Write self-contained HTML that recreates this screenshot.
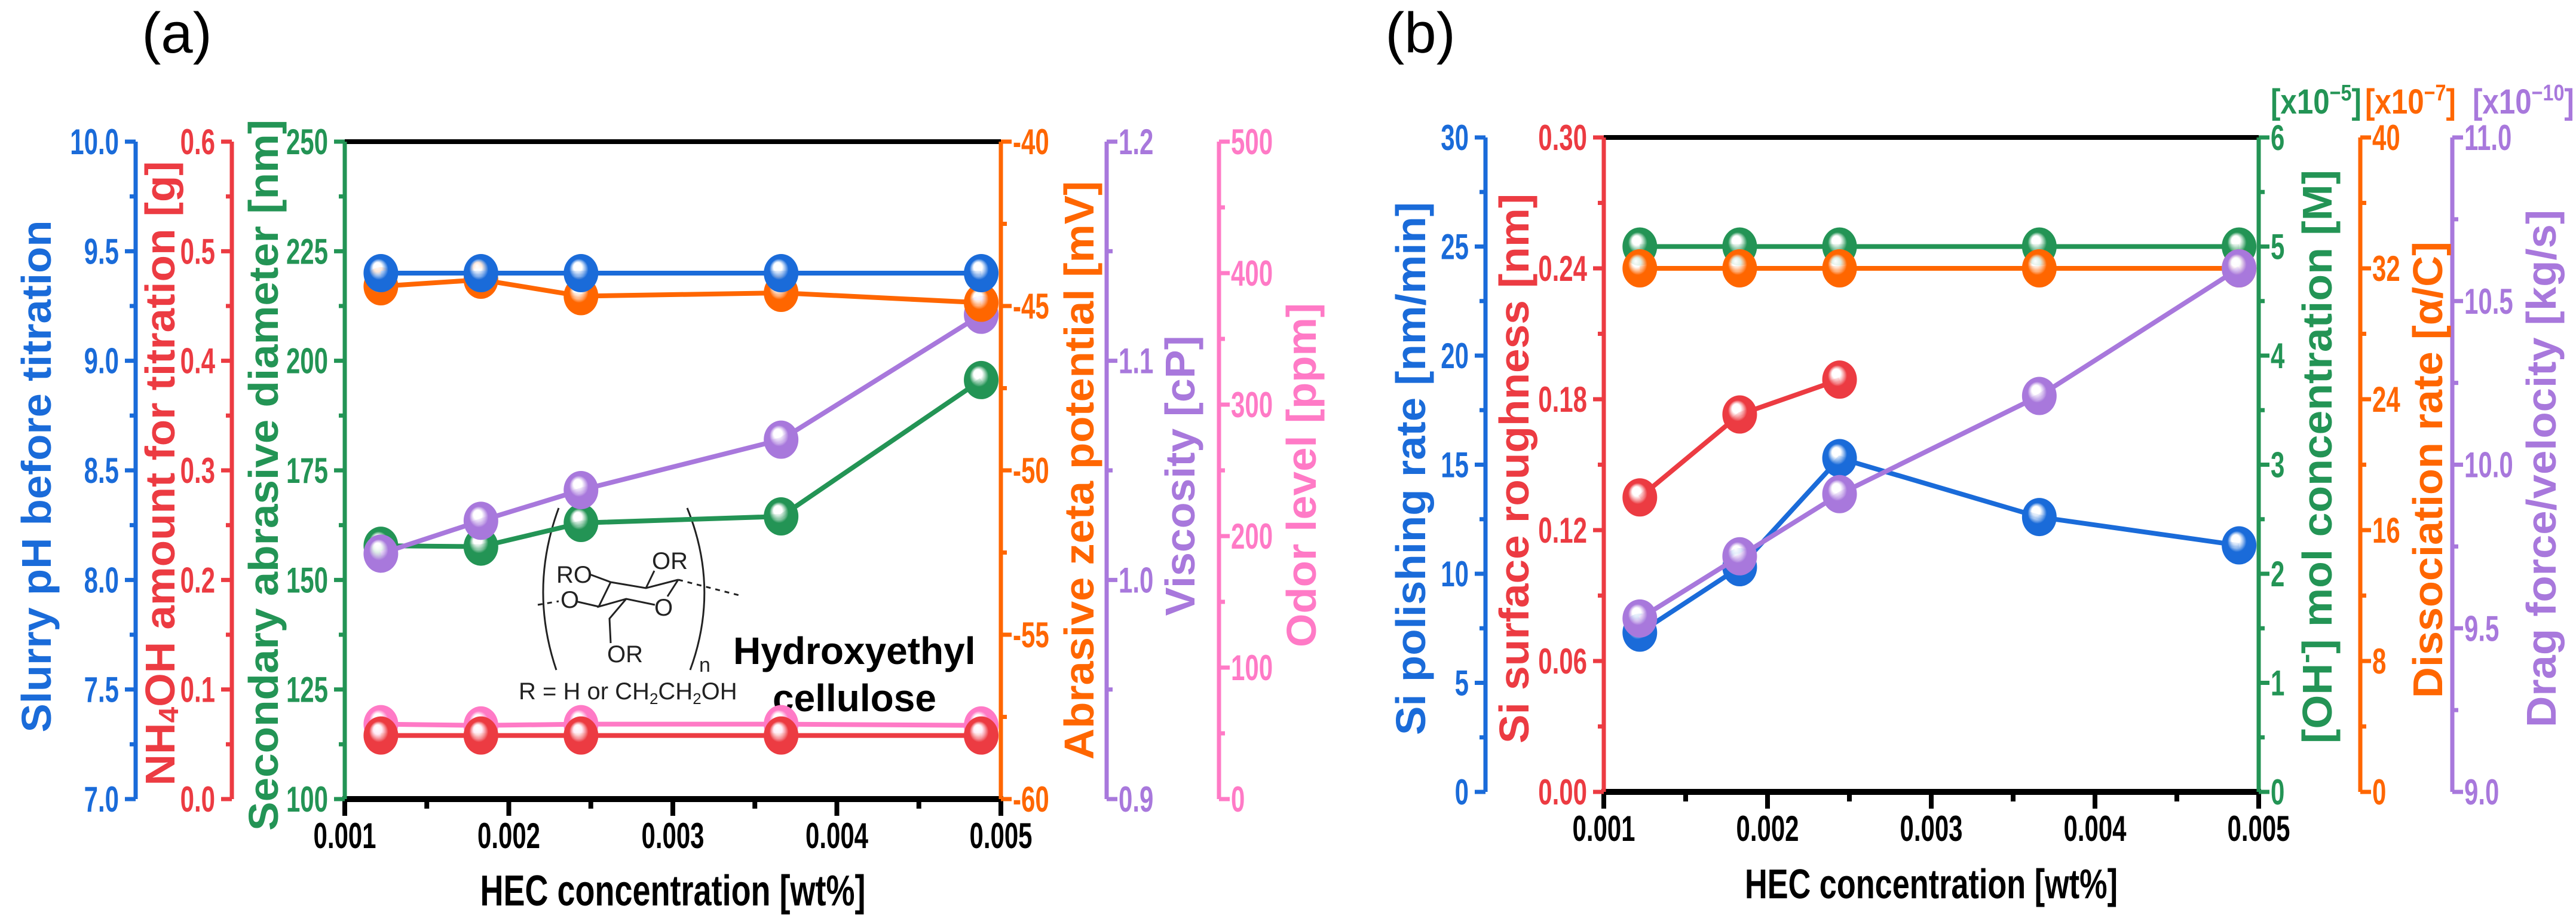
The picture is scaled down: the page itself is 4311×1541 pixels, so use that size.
<!DOCTYPE html>
<html><head><meta charset="utf-8"><style>
html,body{margin:0;padding:0;background:#fff;}
svg{display:block;font-family:"Liberation Sans",Arial,sans-serif;}
</style></head><body>
<svg id="chart" xmlns="http://www.w3.org/2000/svg" width="4311" height="1541" viewBox="0 0 4311 1541">
<defs id="defs"></defs>
<text x="296" y="88" font-size="96" text-anchor="middle">(a)</text>
<text x="2377" y="88" font-size="96" text-anchor="middle">(b)</text>
<g id="structure" fill="none" stroke="#222" stroke-width="3">
<path d="M935 850 Q885 985 931 1121"/><path d="M1150 850 Q1205 985 1155 1121"/>
<path d="M987 961 L1022 974 L1081 984 L1135 970"/>
<path d="M1022 974 L1002 1015 L1048 1002 L1096 1012"/>
<path d="M1081 984 L1095 955"/>
<path d="M1135 970 L1117 998"/>
<path d="M963 1006 L1002 1015"/>
<path d="M1048 1002 L1020 1035 L1022 1076"/>
<path d="M1135 970 L1237 996" stroke-dasharray="8 8"/>
<path d="M900 1012 L935 1006" stroke-dasharray="8 8"/>
</g>
<g font-size="40" fill="#222">
<text x="1091" y="952">OR</text><text x="931" y="975">RO</text>
<text x="938" y="1017">O</text><text x="1095" y="1030">O</text>
<text x="1016" y="1108">OR</text><text x="1170" y="1124" font-size="34">n</text>
<text x="868" y="1170">R = H  or  CH<tspan font-size="26" dy="8">2</tspan><tspan dy="-8">CH</tspan><tspan font-size="26" dy="8">2</tspan><tspan dy="-8">OH</tspan></text>
</g>
<text x="1227" y="1111" font-size="64" font-weight="bold">Hydroxyethyl</text>
<text x="1293" y="1190" font-size="64" font-weight="bold">cellulose</text>
<g id="layer"></g>
</svg>
<script>
const xValues = [0.00122, 0.00183, 0.00244, 0.00366, 0.00488];
const xTicks = [0.001, 0.002, 0.003, 0.004, 0.005];
const xTickLabels = ["0.001", "0.002", "0.003", "0.004", "0.005"];
// panel a
const phValues = [9.4, 9.4, 9.4, 9.4, 9.4];
const nh4ohValues = [0.058, 0.058, 0.058, 0.058, 0.058];
const diameterValues = [157.8, 157.6, 163.0, 164.5, 195.6];
const zetaValues = [-44.4, -44.2, -44.7, -44.6, -44.9];
const viscosityValues = [1.012, 1.027, 1.041, 1.064, 1.121];
const odorValues = [57, 56, 57, 57, 56];
// panel b
const polishValues = [7.3, 10.3, 15.3, 12.6, 11.3];
const roughnessValues = [0.135, 0.173, 0.189];
const ohValues = [5.0, 5.0, 5.0, 5.0, 5.0];
const dissocValues = [32, 32, 32, 32, 32];
const dragValues = [9.53, 9.72, 9.91, 10.21, 10.60];

const NS = "http://www.w3.org/2000/svg";
const layer = document.getElementById('layer');
const defs = document.getElementById('defs');
const C = {blue:"#1a6bd9", red:"#ec3b42", green:"#239455", orange:"#ff6600", purple:"#a878dc", pink:"#ff7ac6"};
function mk(tag, attrs, parent){const e=document.createElementNS(NS,tag);for(const k in attrs)e.setAttribute(k,attrs[k]);(parent||layer).appendChild(e);return e;}
for (const k in C){
  const g=mk('radialGradient',{id:'g-'+k,cx:'0.5',cy:'0.5',r:'0.55',fx:'0.38',fy:'0.3'},defs);
  mk('stop',{offset:'0',"stop-color":'#ffffff'},g);
  mk('stop',{offset:'0.22',"stop-color":'#ffffff',"stop-opacity":'0.85'},g);
  mk('stop',{offset:'0.5',"stop-color":C[k]},g);
  mk('stop',{offset:'1',"stop-color":C[k]},g);
}
const P = {
  a:{left:577, right:1675, top:237, bottom:1337},
  b:{left:2684, right:3780, top:230, bottom:1325}
};
function xs(p,v){return p.left+(v-0.001)/0.004*(p.right-p.left);}
function ys(p,v,min,max){return p.bottom-(v-min)/(max-min)*(p.bottom-p.top);}

function condText(x,y,str,color,size,anchor,name){
  const t=mk('text',{transform:`translate(${x},${y}) scale(0.7,1)`,"font-size":size,"font-weight":"bold",fill:color,"text-anchor":anchor});
  t.textContent=str;
  
  
  return t;
}
function vtitle(cx,cy,len,parts,color,name){
  const t=mk('text',{transform:`translate(${cx},${cy}) rotate(-90)`,"font-size":70,"font-weight":"bold",fill:color,"text-anchor":"middle","dominant-baseline":"central",textLength:len,lengthAdjust:"spacingAndGlyphs"});
  parts.forEach(p=>{const s=mk('tspan',{},t); if(p.sub){s.setAttribute('font-size','46');s.setAttribute('dy','14');} if(p.sup){s.setAttribute('font-size','46');s.setAttribute('dy','-20');} if(p.back){s.setAttribute('dy',p.back);} s.textContent=p.t;});
  
  
}
function yAxis(p,x,min,max,major,minor,fmt,color,side,name){
  const g=mk('g',{});
  
  
  mk('line',{x1:x,y1:p.top,x2:x,y2:p.bottom,stroke:color,"stroke-width":7},g);
  const nMin=Math.round((max-min)/minor);
  for(let i=0;i<=nMin;i++){
    const v=min+i*minor, y=ys(p,v,min,max);
    const isMaj=Math.abs((v-min)/major-Math.round((v-min)/major))<1e-6;
    const L=isMaj?18:10;
    mk('line',{x1:x,y1:y,x2:x+side*L,y2:y,stroke:color,"stroke-width":7},g);
    if(isMaj){
      condText(side<0?x-28:x+20, y+21, fmt(v), color, 60, side<0?'end':'start', name+'-tick-label');
    }
  }
}
function xAxis(p,name){
  const g=mk('g',{});
  
  
  mk('line',{x1:p.left-4,y1:p.bottom,x2:p.right+4,y2:p.bottom,stroke:'#000',"stroke-width":10},g);
  mk('line',{x1:p.left,y1:p.top,x2:p.right,y2:p.top,stroke:'#000',"stroke-width":8},g);
  for(let i=0;i<=8;i++){
    const v=0.001+i*0.0005, x=xs(p,v);
    mk('line',{x1:x,y1:p.bottom,x2:x,y2:p.bottom+(i%2?16:28),stroke:'#000',"stroke-width":8},g);
  }
  xTicks.forEach((v,i)=>condText(xs(p,v),p.bottom+82,xTickLabels[i],'#000',60,'middle',name+'-tick-label'));
}
function series(p,vals,min,max,color,name){
  const pts=vals.map((v,i)=>[xs(p,xValues[i]),ys(p,v,min,max)]);
  const line=mk('polyline',{points:pts.map(q=>q.join(',')).join(' '),fill:'none',stroke:C[color],"stroke-width":8});
  
  
  pts.forEach(q=>{
    const c=mk('ellipse',{cx:q[0],cy:q[1],rx:29,ry:32,fill:`url(#g-${color})`});
    
    
  });
}
const f1=v=>v.toFixed(1), f0=v=>v.toFixed(0), f2=v=>v.toFixed(2), fm=v=>(v<0?'-':'')+Math.abs(v).toFixed(0);
const a=P.a, b=P.b;
xAxis(a,'x-axis-a');
yAxis(a,227,7,10,0.5,0.25,f1,C.blue,-1,'ph-axis');
yAxis(a,388,0,0.6,0.1,0.05,f1,C.red,-1,'nh4oh-axis');
yAxis(a,577,100,250,25,12.5,f0,C.green,-1,'diameter-axis');
yAxis(a,1675,-60,-40,5,2.5,fm,C.orange,1,'zeta-axis');
yAxis(a,1852,0.9,1.2,0.1,0.05,f1,C.purple,1,'viscosity-axis');
yAxis(a,2040,0,500,100,50,f0,C.pink,1,'odor-axis');
vtitle(61,797,857,[{t:'Slurry pH before titration'}],C.blue,'ph-axis-title');
vtitle(268,792,1045,[{t:'NH'},{t:'4',sub:1},{t:'OH amount for titration [g]',back:-14}],C.red,'nh4oh-axis-title');
vtitle(441,795,1190,[{t:'Secondary abrasive diameter [nm]'}],C.green,'diameter-axis-title');
vtitle(1806,787,968,[{t:'Abrasive zeta potential [mV]'}],C.orange,'zeta-axis-title');
vtitle(1975,796,469,[{t:'Viscosity [cP]'}],C.purple,'viscosity-axis-title');
vtitle(2178,795,576,[{t:'Odor level [ppm]'}],C.pink,'odor-axis-title');
(function(){const t=mk('text',{x:1126,y:1515,"font-size":72,"font-weight":"bold","text-anchor":"middle",textLength:645,lengthAdjust:"spacingAndGlyphs"});t.textContent='HEC concentration [wt%]';})();
series(a,diameterValues,100,250,'green','diameter');
series(a,viscosityValues,0.9,1.2,'purple','viscosity');
series(a,zetaValues,-60,-40,'orange','zeta');
series(a,phValues,7,10,'blue','ph');
series(a,odorValues,0,500,'pink','odor');
series(a,nh4ohValues,0,0.6,'red','nh4oh');
xAxis(b,'x-axis-b');
yAxis(b,2486,0,30,5,2.5,f0,C.blue,-1,'polish-axis');
yAxis(b,2684,0,0.30,0.06,0.03,f2,C.red,-1,'roughness-axis');
yAxis(b,3780,0,6,1,0.5,f0,C.green,1,'oh-axis');
yAxis(b,3950,0,40,8,4,f0,C.orange,1,'dissociation-axis');
yAxis(b,4104,9,11,0.5,0.25,f1,C.purple,1,'drag-axis');
vtitle(2361,784,892,[{t:'Si polishing rate [nm/min]'}],C.blue,'polish-axis-title');
vtitle(2534,784,920,[{t:'Si surface roughness [nm]'}],C.red,'roughness-axis-title');
vtitle(3878,764,960,[{t:'[OH'},{t:'-',sup:1},{t:'] mol concentration [M]',back:20}],C.green,'oh-axis-title');
vtitle(4063,786,764,[{t:'Dissociation rate [α/C]'}],C.orange,'dissociation-axis-title');
vtitle(4253,784,866,[{t:'Drag force/velocity [kg/s]'}],C.purple,'drag-axis-title');
function mult(x,exp,color,name){
  const t=mk('text',{transform:`translate(${x},190) scale(0.85,1)`,"font-size":58,"font-weight":"bold",fill:color});
  const s1=mk('tspan',{},t);s1.textContent='[x10';
  const s2=mk('tspan',{dy:-22,"font-size":38},t);s2.textContent=exp;
  const s3=mk('tspan',{dy:22},t);s3.textContent=']';
  
  
}
mult(3800,'−5',C.green,'oh-multiplier');
mult(3958,'−7',C.orange,'dissociation-multiplier');
mult(4138,'−10',C.purple,'drag-multiplier');
(function(){const t=mk('text',{x:3232,y:1503,"font-size":70,"font-weight":"bold","text-anchor":"middle",textLength:624,lengthAdjust:"spacingAndGlyphs"});t.textContent='HEC concentration [wt%]';})();
series(b,ohValues,0,6,'green','oh');
series(b,dissocValues,0,40,'orange','dissociation');
series(b,roughnessValues,0,0.30,'red','roughness');
series(b,polishValues,0,30,'blue','polish');
series(b,dragValues,9,11,'purple','drag');
</script>
</body></html>
